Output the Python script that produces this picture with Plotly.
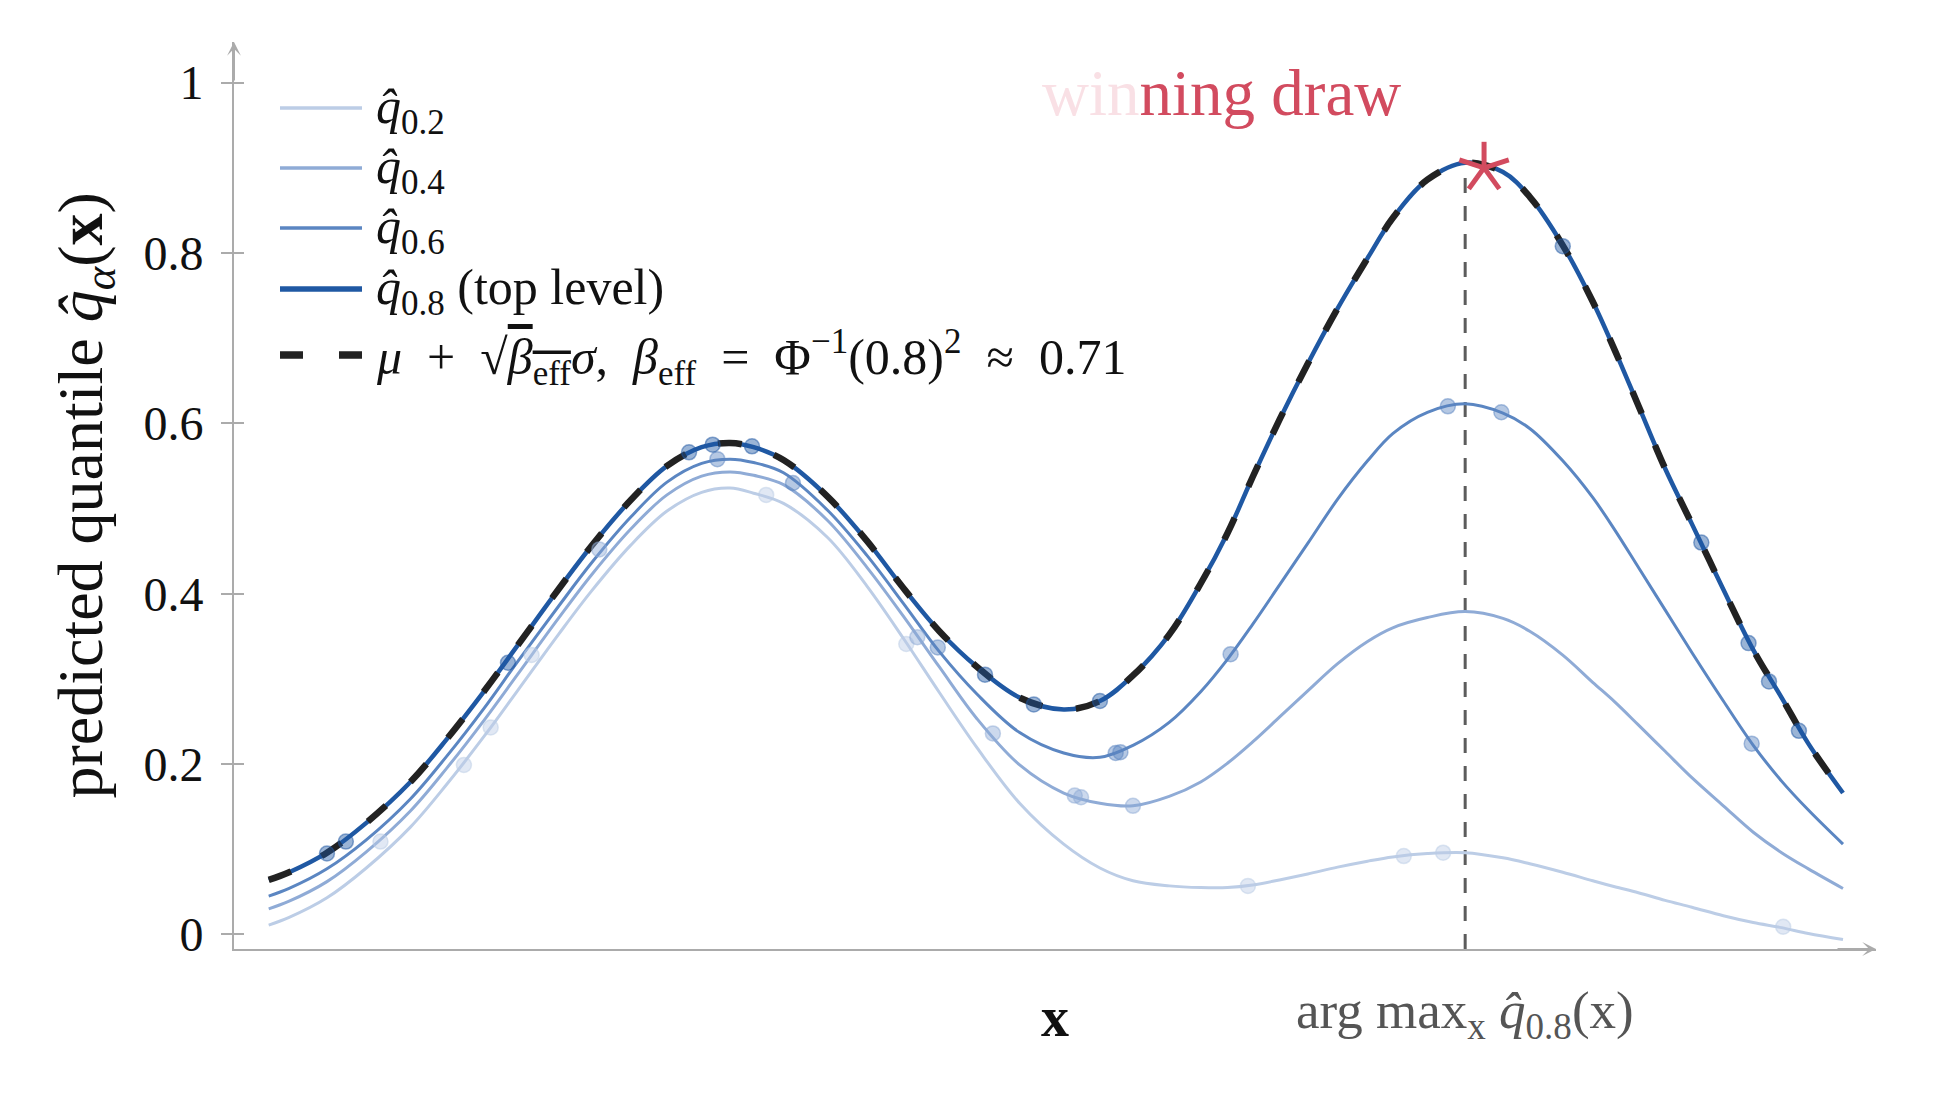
import math
import plotly.graph_objects as go

# ---------------- data ----------------
x_grid = [0.00, 0.13, 0.37, 0.62, 0.90, 1.13, 1.37, 1.58, 1.84, 2.05, 2.30, 2.53, 2.75, 2.93,
          3.08, 3.27, 3.55, 3.80, 4.03, 4.26, 4.50, 4.77, 5.05, 5.28, 5.49, 5.72, 5.92, 6.09,
          6.25, 6.42, 6.60, 6.79, 6.98, 7.14, 7.36, 7.60, 7.84, 8.01, 8.22, 8.41, 8.55, 8.70,
          8.87, 9.04, 9.24, 9.43, 9.61, 9.78, 10.00]

q02 = [0.011, 0.020, 0.043, 0.078, 0.126, 0.176, 0.233, 0.286, 0.352, 0.403, 0.457, 0.497, 0.519, 0.524,
       0.518, 0.506, 0.466, 0.409, 0.348, 0.284, 0.219, 0.154, 0.106, 0.078, 0.063, 0.057, 0.055, 0.055,
       0.058, 0.064, 0.071, 0.079, 0.086, 0.091, 0.095, 0.096, 0.090, 0.083, 0.073, 0.063, 0.056, 0.049,
       0.040, 0.032, 0.022, 0.014, 0.008, 0.001, -0.006]

q04 = [0.030, 0.039, 0.062, 0.097, 0.145, 0.195, 0.252, 0.305, 0.371, 0.422, 0.476, 0.516, 0.538, 0.543,
       0.539, 0.528, 0.486, 0.431, 0.374, 0.314, 0.253, 0.199, 0.166, 0.154, 0.151, 0.162, 0.179, 0.201,
       0.226, 0.255, 0.286, 0.318, 0.344, 0.360, 0.372, 0.379, 0.371, 0.356, 0.328, 0.296, 0.273, 0.246,
       0.215, 0.184, 0.151, 0.120, 0.096, 0.077, 0.054]

q06 = [0.045, 0.054, 0.077, 0.111, 0.159, 0.209, 0.266, 0.320, 0.385, 0.436, 0.490, 0.531, 0.553, 0.558,
       0.554, 0.542, 0.498, 0.445, 0.389, 0.332, 0.282, 0.237, 0.213, 0.208, 0.222, 0.249, 0.285, 0.323,
       0.364, 0.410, 0.459, 0.511, 0.556, 0.588, 0.613, 0.623, 0.612, 0.594, 0.556, 0.513, 0.475, 0.431,
       0.381, 0.331, 0.274, 0.222, 0.180, 0.146, 0.106]

q08 = [0.064, 0.073, 0.096, 0.131, 0.179, 0.229, 0.286, 0.339, 0.405, 0.456, 0.510, 0.550, 0.572, 0.577,
       0.572, 0.557, 0.514, 0.462, 0.407, 0.356, 0.314, 0.278, 0.264, 0.274, 0.304, 0.352, 0.412, 0.471,
       0.537, 0.604, 0.670, 0.735, 0.794, 0.841, 0.886, 0.906, 0.895, 0.866, 0.809, 0.743, 0.686, 0.621,
       0.547, 0.482, 0.405, 0.334, 0.278, 0.224, 0.166]

# mu + sqrt(beta_eff) * sigma  (visually coincides with the top level)
ucb = [0.064, 0.073, 0.096, 0.131, 0.179, 0.229, 0.286, 0.339, 0.405, 0.456, 0.510, 0.550, 0.572, 0.577,
       0.572, 0.557, 0.514, 0.462, 0.407, 0.356, 0.314, 0.278, 0.264, 0.274, 0.304, 0.352, 0.412, 0.471,
       0.537, 0.604, 0.670, 0.735, 0.794, 0.841, 0.886, 0.906, 0.895, 0.866, 0.809, 0.743, 0.686, 0.621,
       0.547, 0.482, 0.405, 0.334, 0.278, 0.224, 0.166]

draws_q02_x = [0.71, 1.24, 1.41, 1.67, 3.16, 4.05, 6.22, 7.21, 7.46, 9.62]
draws_q02_y = [0.109, 0.199, 0.243, 0.328, 0.516, 0.341, 0.057, 0.092, 0.096, 0.009]
draws_q04_x = [2.10, 4.12, 4.60, 5.12, 5.16, 5.49]
draws_q04_y = [0.452, 0.349, 0.236, 0.163, 0.161, 0.151]
draws_q06_x = [2.85, 3.33, 4.25, 5.38, 5.41, 6.11, 7.49, 7.83, 9.42]
draws_q06_y = [0.558, 0.530, 0.337, 0.213, 0.214, 0.329, 0.620, 0.613, 0.224]
draws_q08_x = [0.37, 0.49, 1.52, 2.67, 2.82, 3.07, 4.55, 4.86, 5.28, 8.22, 9.10, 9.40, 9.53, 9.72]
draws_q08_y = [0.095, 0.109, 0.319, 0.566, 0.575, 0.573, 0.305, 0.270, 0.274, 0.808, 0.460, 0.342, 0.297, 0.239]

argmax_x = 7.60
argmax_q = 0.906
winner_x = 7.72
winner_y = 0.900

y_ticks = [0, 0.2, 0.4, 0.6, 0.8, 1.0]
y_tick_labels = ["0", "0.2", "0.4", "0.6", "0.8", "1"]

EN = "\u2002"
legend_labels = [
    "<i>q̂</i><sub>0.2</sub>",
    "<i>q̂</i><sub>0.4</sub>",
    "<i>q̂</i><sub>0.6</sub>",
    "<i>q̂</i><sub>0.8</sub> (top level)",
    "<i>μ</i>" + EN + "+" + EN + "√<span style='text-decoration:overline'><i>β</i><sub>eff</sub></span><i>σ</i>," + EN
    + "<i>β</i><sub>eff</sub>" + EN + "=" + EN + "Φ<sup>−1</sup>(0.8)<sup>2</sup>" + EN + "≈" + EN + "0.71",
]

# ---------------- styling ----------------
W, H = 1933, 1095
ML, MR, MT, MB = 234, 57, 42, 146
PW, PH = W - ML - MR, H - MT - MB
XR = [-0.2204, 10.2096]
YR = [-0.0171, 1.0477]
SERIF = "Liberation Serif, Times New Roman, serif"
C02, C04, C06, C08 = "#bccde6", "#8fabd6", "#5b86c2", "#1f58a3"
RED = "#d24b5f"
AXC = "#ababab"


def rgba(hexc, a):
    h = hexc.lstrip("#")
    return "rgba(%d,%d,%d,%.2f)" % (int(h[0:2], 16), int(h[2:4], 16), int(h[4:6], 16), a)


def px_x(p):
    return (p - ML) / PW


def px_y(p):
    return (H - MB - p) / PH


fig = go.Figure()

for vals, col, w in [(q02, C02, 3), (q04, C04, 3), (q06, C06, 3), (q08, C08, 4.5)]:
    fig.add_trace(go.Scatter(x=x_grid, y=vals, mode="lines", showlegend=False, hoverinfo="skip",
                             line=dict(color=col, width=w, shape="spline", smoothing=1.0)))

fig.add_trace(go.Scatter(x=x_grid, y=ucb, mode="lines", showlegend=False, hoverinfo="skip",
                         line=dict(color="#222222", width=6.5, dash="24px,34px", shape="spline", smoothing=1.0)))

for xs, ys, col in [(draws_q02_x, draws_q02_y, C02), (draws_q04_x, draws_q04_y, C04),
                    (draws_q06_x, draws_q06_y, C06), (draws_q08_x, draws_q08_y, C08)]:
    fig.add_trace(go.Scatter(x=xs, y=ys, mode="markers", showlegend=False, hoverinfo="skip",
                             marker=dict(size=15, color=rgba(col, 0.45),
                                         line=dict(color=rgba(col, 0.5), width=1.5))))

# winning draw: five-armed asterisk built around the winner's data point
ppx = PW / (XR[1] - XR[0])
ppy = PH / (YR[1] - YR[0])
arm = 26
sx, sy = [], []
for ang in [90, 18, -54, -126, 162]:
    a = math.radians(ang)
    sx += [winner_x, winner_x + arm * math.cos(a) / ppx, None]
    sy += [winner_y, winner_y + arm * math.sin(a) / ppy, None]
fig.add_trace(go.Scatter(x=sx, y=sy, mode="lines", showlegend=False, hoverinfo="skip",
                         line=dict(color=RED, width=5)))

# dummy trace so the inner-tick axis is drawn
fig.add_trace(go.Scatter(x=[None], y=[None], yaxis="y2", showlegend=False, hoverinfo="skip"))

shapes = [
    dict(type="line", xref="x", yref="y", x0=argmax_x, x1=argmax_x, y0=YR[0], y1=argmax_q,
         line=dict(color="#5c5c5c", width=3, dash="15px,13px"), layer="below"),
]

annotations = []
row_y = [108, 168, 228, 289, 355]
styles = [(C02, 3.3, "solid"), (C04, 3.5, "solid"), (C06, 3.5, "solid"), (C08, 5.5, "solid"),
          ("#222222", 7.5, "23px,36px")]
for (col, w, d), ry, lab in zip(styles, row_y, legend_labels):
    shapes.append(dict(type="line", xref="paper", yref="paper", x0=px_x(280), x1=px_x(362),
                       y0=px_y(ry), y1=px_y(ry), line=dict(color=col, width=w, dash=d)))
    annotations.append(dict(xref="paper", yref="paper", x=px_x(374), y=px_y(ry + 2), xanchor="left",
                            yanchor="middle", text=lab, showarrow=False,
                            font=dict(family=SERIF, size=50, color="#111111")))

annotations += [
    dict(xref="paper", yref="paper", x=0, y=0.5, xshift=84 - ML, xanchor="center", yanchor="middle",
         textangle=-90, showarrow=False,
         text="predicted quantile <i>q̂</i><sub><i>α</i></sub>(<b>x</b>)",
         font=dict(family=SERIF, size=64, color="#111111")),
    dict(xref="paper", yref="paper", x=0.5, y=px_y(1017), xanchor="center", yanchor="middle",
         showarrow=False, text="<b>x</b>", font=dict(family=SERIF, size=56, color="#111111")),
    dict(xref="x", yref="paper", x=argmax_x, y=px_y(1014), xanchor="center", yanchor="middle",
         showarrow=False, text="arg max<sub>x</sub> <i>q̂</i><sub>0.8</sub>(x)",
         font=dict(family=SERIF, size=53, color="#555555")),
    dict(xref="x", yref="y", x=6.05, y=0.988, xanchor="center", yanchor="middle", showarrow=False,
         text="<span style='color:#f9e0e5'>win</span>ning draw",
         font=dict(family=SERIF, size=65, color=RED)),
    dict(xref="paper", yref="paper", x=1, y=0, ax=-40, ay=0, axref="pixel", ayref="pixel", text="",
         showarrow=True, arrowhead=3, arrowsize=1.15, arrowwidth=2, arrowcolor=AXC),
    dict(xref="paper", yref="paper", x=0, y=1, ax=0, ay=40, axref="pixel", ayref="pixel", text="",
         showarrow=True, arrowhead=3, arrowsize=1.15, arrowwidth=2, arrowcolor=AXC),
]

fig.update_layout(
    width=W, height=H,
    margin=dict(l=ML, r=MR, t=MT, b=MB, pad=0),
    paper_bgcolor="white", plot_bgcolor="white",
    showlegend=False,
    xaxis=dict(range=XR, showgrid=False, zeroline=False, showticklabels=False, ticks="",
               showline=True, linecolor=AXC, linewidth=2, automargin=False),
    yaxis=dict(range=YR, showgrid=False, zeroline=False, tickvals=y_ticks, ticktext=y_tick_labels,
               ticks="outside", ticklen=11, tickwidth=1.5, tickcolor=AXC, ticklabelstandoff=8,
               tickfont=dict(family=SERIF, size=48, color="#111111"),
               showline=True, linecolor=AXC, linewidth=2, automargin=False),
    yaxis2=dict(range=YR, overlaying="y", side="left", anchor="x", showgrid=False, zeroline=False,
                tickvals=y_ticks, showticklabels=False, ticks="inside", ticklen=10, tickwidth=1.5,
                tickcolor=AXC, showline=False, automargin=False),
    shapes=shapes,
    annotations=annotations,
)

fig.write_html("out.html")
